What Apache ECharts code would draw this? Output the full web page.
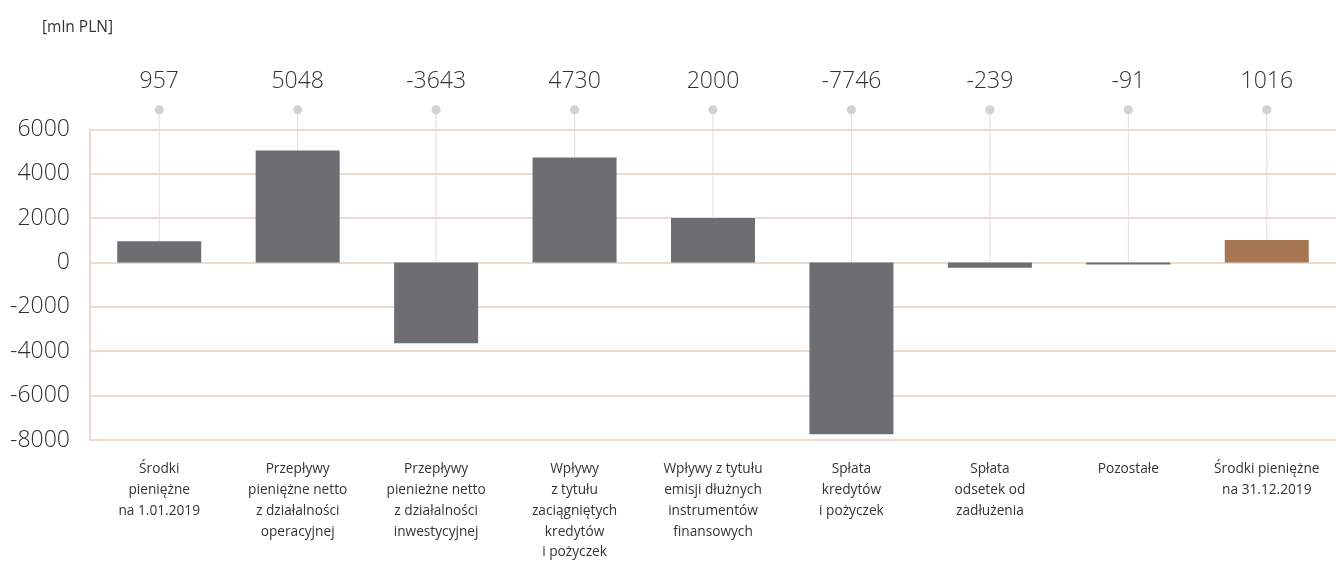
<!DOCTYPE html>
<html>
<head>
<meta charset="utf-8">
<script src="https://cdn.jsdelivr.net/npm/echarts@6/dist/echarts.min.js"></script>
<style>
html,body{margin:0;padding:0;background:#fff;}
#c{width:1336px;height:563px;}
</style>
</head>
<body>
<div id="c"></div>
<script>
const categories = [
  'Środki\npieniężne\nna 1.01.2019',
  'Przepływy\npieniężne netto\nz działalności\noperacyjnej',
  'Przepływy\npienieżne netto\nz działalności\ninwestycyjnej',
  'Wpływy\nz tytułu\nzaciągniętych\nkredytów\ni pożyczek',
  'Wpływy z tytułu\nemisji dłużnych\ninstrumentów\nfinansowych',
  'Spłata\nkredytów\ni pożyczek',
  'Spłata\nodsetek od\nzadłużenia',
  'Pozostałe',
  'Środki pieniężne\nna 31.12.2019'
];
const values = [957, 5048, -3643, 4730, 2000, -7746, -239, -91, 1016];
const yTicks = { min: -8000, max: 6000, interval: 2000 };
const unitLabel = '[mln PLN]';

const FONT = '"Open Sans", sans-serif';
const GRID_COLOR = '#e2d2c4';
const BAR = '#6d6e71';
const BAR_LAST = '#a67653';

const chart = echarts.init(document.getElementById('c'), null, { renderer: 'canvas' });

chart.setOption({
  animation: false,
  backgroundColor: '#fff',
  title: {
    text: unitLabel, left: 37, top: 15,
    textStyle: { fontFamily: FONT, fontSize: 15.5, fontWeight: 'normal', color: '#333' }
  },
  grid: { left: 90, right: -4, top: 129.3, bottom: 121.3, containLabel: false },
  xAxis: {
    type: 'category', data: categories,
    axisLine: { show: false }, axisTick: { show: false },
    axisLabel: { interval: 0, margin: 19, fontFamily: FONT, fontSize: 13.7, lineHeight: 20.8, color: '#333', verticalAlign: 'top' }
  },
  yAxis: {
    type: 'value', min: yTicks.min, max: yTicks.max, interval: yTicks.interval,
    axisLine: { show: true, lineStyle: { color: GRID_COLOR, width: 1.5 } },
    axisTick: { show: false },
    axisLabel: { margin: 20, fontFamily: FONT, fontSize: 23, fontWeight: 300, color: '#2e2e2e', formatter: function (v) { return String(v); } },
    splitLine: { show: true, lineStyle: { color: GRID_COLOR, width: 1.5 } }
  },
  series: [
    {
      type: 'custom', z: 1, clip: false,
      data: values.map((v, i) => [i, v]),
      renderItem: function (params, api) {
        const i = api.value(0), v = api.value(1);
        const top = api.coord([i, Math.max(v, 0)]);
        const ref = api.coord([i, yTicks.max]);
        const dotY = ref[1] - 19.5;
        const textY = ref[1] - 47.5;
        return {
          type: 'group',
          children: [
            { type: 'line', shape: { x1: top[0], y1: dotY, x2: top[0], y2: top[1] }, style: { stroke: '#e3e3e3', lineWidth: 1.2 } },
            { type: 'circle', shape: { cx: top[0], cy: dotY, r: 4.6 }, style: { fill: '#d1d2d4' } },
            { type: 'text', x: top[0], y: textY, style: { text: String(v), fontFamily: FONT, fontSize: 23, fontWeight: 300, fill: '#333', align: 'center', verticalAlign: 'middle' } }
          ]
        };
      }
    },
    {
      type: 'bar', z: 2, barWidth: 84,
      data: values.map((v, i) => ({ value: v, itemStyle: { color: i === values.length - 1 ? BAR_LAST : BAR } }))
    }
  ]
});
</script>
</body>
</html>
